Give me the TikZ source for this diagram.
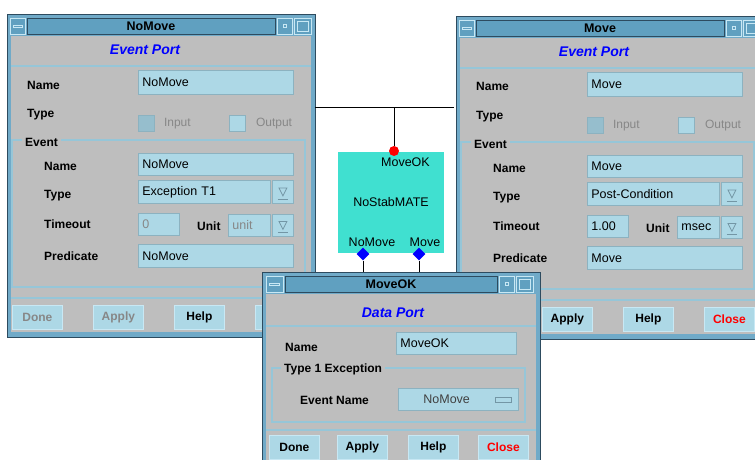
\documentclass[tikz,border=0pt]{standalone}
\usepackage{fontspec}
\setmainfont{Liberation Sans}
\usepackage{tikz}
\usetikzlibrary{positioning,shapes.geometric,calc}
\usepackage{xcolor}

\definecolor{paneGray}{RGB}{190,190,190}
\definecolor{fieldBlue}{RGB}{173,216,230}
\definecolor{fieldEdge}{RGB}{140,178,192}
\definecolor{chkDark}{RGB}{150,190,205}
\definecolor{titleBlue}{RGB}{96,160,192}
\definecolor{frameDark}{RGB}{45,75,95}
\definecolor{frameBlue}{RGB}{112,170,200}
\definecolor{etchLight}{RGB}{200,232,244}
\definecolor{sepBlue}{RGB}{150,198,216}
\definecolor{glyphGray}{RGB}{115,150,165}
\definecolor{mateFill}{RGB}{64,224,208}
\definecolor{offText}{RGB}{135,135,135}

\begin{document}
\begin{tikzpicture}[x=1pt,y=-1pt,
    winframe/.style={fill=frameBlue,draw=frameDark,line width=1pt},
    tbar/.style={fill=titleBlue,draw=frameDark,line width=0.6pt},
    tbtn/.style={fill=titleBlue,draw=etchLight,line width=0.6pt},
    tglyph/.style={draw=etchLight,line width=0.6pt},
    heading/.style={text=blue,font=\fontsize{14}{16}\selectfont\bfseries\itshape},
    wtitle/.style={font=\fontsize{12.5}{15}\selectfont\bfseries},
    lbl/.style={anchor=base west,inner sep=0pt,font=\fontsize{12}{14}\selectfont\bfseries},
    grplbl/.style={anchor=west,fill=paneGray,inner xsep=3pt,inner ysep=1pt,font=\fontsize{12}{14}\selectfont\bfseries},
    field/.style={anchor=north west,fill=fieldBlue,draw=fieldEdge,line width=0.8pt,inner xsep=4pt,inner ysep=0pt,align=left,font=\fontsize{12.5}{15}\selectfont},
    drop/.style={anchor=north west,fill=fieldBlue,draw=fieldEdge,line width=0.8pt,minimum width=21pt,minimum height=23pt,inner sep=0pt},
    chk/.style={anchor=north west,fill=fieldBlue,draw=fieldEdge,line width=0.8pt,minimum size=16pt,inner sep=0pt},
    off/.style={text=offText,inner sep=0pt,font=\fontsize{12}{14}\selectfont},
    btn/.style={anchor=north west,fill=fieldBlue,draw=etchLight,line width=0.8pt,minimum width=50pt,minimum height=24pt,inner sep=0pt,font=\fontsize{12}{14}\selectfont\bfseries},
    sep/.style={draw=sepBlue,line width=1.2pt},
    grp/.style={draw=sepBlue,line width=1.2pt},
    glyph/.style={draw=glyphGray,line width=0.8pt},
    wire/.style={draw=black,line width=0.8pt},
    mate/.style={fill=mateFill,minimum width=106pt,minimum height=101pt,inner sep=0pt,font=\fontsize{12.5}{15}\selectfont},
    ptxt/.style={inner sep=0pt,font=\fontsize{12.5}{15}\selectfont}]

  \useasboundingbox (0,0) rectangle (755,460);
  \clip (0,0) rectangle (755,460);
  \fill[white] (0,0) rectangle (755,460);

  % the two event port windows
  \foreach \wx/\wy/\w/\wtitle/\fname/\ftype/\ftime/\funit/\st in
    {0/0/nm/NoMove/NoMove/Exception T1/0/unit/offText,
     449/2/mv/Move/Move/Post-Condition/1.00/msec/black}
  {
    \begin{scope}[shift={(\wx,\wy)}]
      \draw[winframe] (7,15) rectangle (315,337);
      \fill[paneGray] (11,36) rectangle (311,332);
      \draw[tbtn] (10,18) rectangle (25,34);
      \draw[tbar] (27,18) rectangle (275,34);
      \draw[tbtn] (277,18) rectangle (292,34);
      \draw[tbtn] (294,18) rectangle (311,34);
      \draw[tglyph] (13,25) rectangle (22,27.5);
      \draw[tglyph] (283,24.5) rectangle (286,27.5);
      \draw[tglyph] (297,21) rectangle (308,31);
      \node[wtitle] (\w-title) at (151,26) {\wtitle};
      \node[heading] (\w-head) at (145,50) {Event Port};
      \draw[sep] (11,66) -- (311,66);

      \node[lbl] (\w-namel) at (27,89) {Name};
      \node[field,text width=147pt,minimum height=24pt] (\w-name) at (138,70) {\fname};
      \node[lbl] (\w-typel) at (27,117) {Type};
      \node[chk,fill=chkDark] (\w-in) at (138,115) {};
      \node[off,right=9pt of \w-in] (\w-inl) {Input};
      \node[chk] (\w-out) at (229,115) {};
      \node[off,right=10pt of \w-out] (\w-outl) {Output};

      \draw[grp] (12,140) rectangle (305,287);
      \node[grplbl] (\w-event) at (22,142) {Event};
      \node[lbl] (\w-evnamel) at (44,170) {Name};
      \node[field,text width=147pt,minimum height=22pt] (\w-evname) at (138,153) {\fname};
      \node[lbl] (\w-evtypel) at (44,198) {Type};
      \node[field,text width=124pt,minimum height=23pt] (\w-evtype) at (138,180) {\ftype};
      \node[drop] (\w-typedd) at (272,180) {};
      \node[lbl] (\w-timel) at (44,228) {Timeout};
      \node[field,text width=33pt,minimum height=22pt,text=\st] (\w-time) at (138,213) {\ftime};
      \node[lbl] (\w-unitl) at (197,230) {Unit};
      \node[field,text width=34pt,minimum height=22pt,text=\st] (\w-unit) at (228,214) {\funit};
      \node[drop,minimum height=22pt] (\w-unitdd) at (272,214) {};
      \node[lbl] (\w-predl) at (44,260) {Predicate};
      \node[field,text width=147pt,minimum height=23pt] (\w-pred) at (138,244) {\fname};

      \foreach \d in {typedd,unitdd} {
        \draw[glyph] ($(\w-\d.center)+(-4,-4)$) -- ++(8,0) -- ++(-4,8) -- cycle;
        \draw[glyph] ($(\w-\d.center)+(-5,7)$) -- ++(10,0);
      }

      \draw[sep] (11,298) -- (311,298);
      \foreach \bx/\bt/\bc in {12/Done/\st,93/Apply/\st,174/Help/black,255/Close/red}
        \node[btn,text=\bc] (\w-\bt) at (\bx,305) {\bt};
    \end{scope}
  }

  % the MATE between them
  \coordinate (busL) at (315,107);
  \coordinate (busR) at (454,107);
  \node[mate] (mate) at (391,202.5) {NoStabMATE};
  \node[ptxt,anchor=base east] (okLbl) at (430,166) {MoveOK};
  \node[ptxt,anchor=base] (noMoveLbl) at (372,246) {NoMove};
  \node[ptxt,anchor=base] (moveLbl) at (425,246) {Move};
  \node[circle,fill=red,inner sep=0pt,minimum size=10pt] (okPort) at (394,151) {};
  \node[diamond,fill=blue,inner sep=0pt,minimum size=13pt] (noMovePort) at (363,254) {};
  \node[diamond,fill=blue,inner sep=0pt,minimum size=13pt] (movePort) at (419,254) {};
  \coordinate (noMoveEnd) at (363,275);
  \coordinate (moveEnd) at (419,275);
  \draw[wire] (busL) -- (busR);
  \draw[wire] (okPort) -- (okPort |- busL);
  \draw[wire] (noMovePort) -- (noMoveEnd);
  \draw[wire] (movePort) -- (moveEnd);

  % data port window on top
  \draw[winframe] (262,272) rectangle (540,470);
  \fill[paneGray] (266,294) rectangle (536,470);
  \draw[tbtn] (266,276) rectangle (283,292);
  \draw[tbar] (285,276) rectangle (497,292);
  \draw[tbtn] (499,276) rectangle (514,292);
  \draw[tbtn] (516,276) rectangle (533,292);
  \draw[tglyph] (269,283) rectangle (279,285.5);
  \draw[tglyph] (505,282.5) rectangle (508,285.5);
  \draw[tglyph] (519,279) rectangle (530,289);
  \node[wtitle] (okTitle) at (391,284) {MoveOK};
  \node[heading] (okHead) at (393,313) {Data Port};
  \draw[sep] (266,326) -- (536,326);
  \node[lbl] (okNameL) at (285,351) {Name};
  \node[field,text width=112pt,minimum height=22pt] (okName) at (396,332) {MoveOK};
  \draw[grp] (272,368) rectangle (525,422);
  \node[grplbl] (okGrp) at (281,369) {Type 1 Exception};
  \node[lbl] (okEvL) at (300,404) {Event Name};
  \node[field,text width=112pt,minimum height=22pt,text=black!75] (okEv) at (398,388) {\hspace*{21pt}NoMove};
  \draw[fill=fieldBlue,draw=glyphGray,line width=0.6pt] ($(okEv.east)+(-24,-2.5)$) rectangle ++(16,5);
  \draw[sep] (266,430) -- (536,430);
  \foreach \bx/\bt/\bc in {269/Done/black,337/Apply/black,408/Help/black,478/Close/red}
    \node[btn,text=\bc] (ok-\bt) at (\bx,435) {\bt};
\end{tikzpicture}
\end{document}
